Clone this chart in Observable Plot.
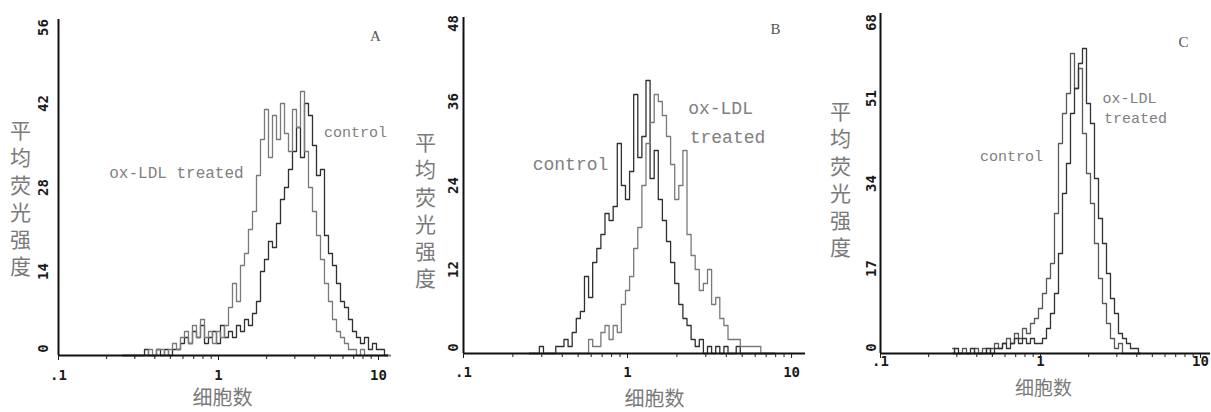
<!DOCTYPE html>
<html><head><meta charset="utf-8">
<script src="https://cdn.jsdelivr.net/npm/d3@7"></script>
<script src="https://cdn.jsdelivr.net/npm/@observablehq/plot@0.6"></script>
<style>
body{margin:0;background:#fff;}
#wrap{position:relative;width:1211px;height:412px;overflow:hidden;background:#fff;}
.panel{position:absolute;top:0;}
</style></head><body><div id="wrap"></div>
<script>
// histogram channels: log10 of fluorescence, fixed channel width
const binStep = 0.025;

// Panel A
const binStartA = -0.6;
const oxLdlA = [0,0,0,0,0,0,0, 1,0,1,1,0,1,2,1, 3,4,2,5,3,6,3,4,2,4,3,5,
  8,12,9,15,17,21,24,30,36,41,33,40,36,42,37,34,41,38,44,34,28,24,20,16,12,9,6,4,3,2,1,1,0,1,0,0,0,0,0,0,0];
const controlA = [0,0,0,0,0,0,1,0,0,1,0,1,0,1,1, 2,3,2,4,3,5,2,3,4,2,5,3,4,
  3,5,4,6,5,7,9,14,16,19,18,22,26,28,31,34,38,33,42,40,35,30,31,20,17,15,12,9,8,6,4,3,2,3,1,2,1,1,0,0];
const yTicksA = [0,14,28,42,56];

// Panel B
const binStartB = -0.6;
const controlB = [0,0,0,1,0,0,0,1,1,2,1,3,5,6,
  11,8,13,15,17,20,19,21,30,24,22,26,37,28,31,39,25,29,22,19,16,13,10,7,5,4,2,1,2,0,1,0,1,0,1,0,0,1,0,0,0,0,0,0,0,0,0];
const oxLdlB = [0,0,0,0,0,0,0,0,0,0,0,0,0,0,
  0,2,1,1,3,4,2,4,3,7,9,11,15,18,24,30,33,37,36,34,31,27,22,24,29,17,14,12,9,10,12,7,8,5,4,2,2,2,1,1,1,1,1,0,0,0,0];
const yTicksB = [0,12,24,36,48];

// Panel C
const binStartC = -0.55;
const controlC = [1,0,0,1,0,0,1,0,1,0,1,2,1,2,3,2,4,3,5,4,6,7,
  9,12,15,18,28,42,48,52,60,53,57,44,36,30,22,15,10,6,3,1,2,0,0,0,0,0];
const oxLdlC = [0,1,0,0,0,1,0,0,0,1,0,1,1,2,1,2,3,2,3,2,3,2,2,3,
  5,8,12,20,32,38,48,53,58,61,50,46,35,27,22,16,11,8,4,3,2,1,1,0];
const yTicksC = [0,17,34,51,68];

const xMajor = [0.1, 1, 10];
const xMajorLabels = [".1", "1", "10"];
const xMinor = [0.2,0.3,0.4,0.5,0.6,0.7,0.8,0.9,2,3,4,5,6,7,8,9];

const yTitle = "平\n均\n荧\n光\n强\n度";
const xTitle = "细胞数";

function series(start, values) {
  return values.map((v, i) => ({x: Math.pow(10, start + i * binStep), y: v}));
}

const panels = [
  {id: "A", left: 0, width: 400, ml: 58, mr: 12, mt: 19, mb: 57, xMax: 11.55,
   start: binStartA, ox: oxLdlA, control: controlA, yTicks: yTicksA,
   oxColor: "#7a7a7a", controlColor: "#303030", yPad: 11, xPad: 10,
   yTitleDx: -38, yTitleDy: 10, xTitleDx: -1, xTitleDy: 43, xTitleSize: 20, dyLow: -7, dyHigh: 8,
   notes: [
     {t: "ox-LDL treated", x: 0.546, y: 30.5, size: 16},
     {t: "control", x: 7.18, y: 37.2, size: 15},
   ],
   letter: {x: 9.58, y: 53.3}},
  {id: "B", left: 400, width: 410, ml: 63, mr: 5, mt: 17, mb: 59, xMax: 12.16,
   start: binStartB, ox: oxLdlB, control: controlB, yTicks: yTicksB,
   oxColor: "#7a7a7a", controlColor: "#303030", yPad: 6, xPad: 9,
   yTitleDx: -38, yTitleDy: 24, xTitleDx: 20, xTitleDy: 46, xTitleSize: 20, dyLow: -6, dyHigh: 6,
   notes: [
     {t: "ox-LDL", x: 3.69, y: 35, size: 18},
     {t: "treated", x: 4.07, y: 30.9, size: 18},
     {t: "control", x: 0.449, y: 27.1, size: 18},
   ],
   letter: {x: 7.98, y: 46.4}},
  {id: "C", left: 810, width: 401, ml: 70, mr: 1, mt: 13, mb: 59, xMax: 11.55,
   start: binStartC, ox: oxLdlC, control: controlC, yTicks: yTicksC,
   oxColor: "#333333", controlColor: "#5a5a5a", yPad: 5, xPad: -2,
   yTitleDx: -40, yTitleDy: -5, xTitleDx: -2, xTitleDy: 35, xTitleSize: 19, dyLow: -6, dyHigh: 9,
   notes: [
     {t: "ox-LDL", x: 3.6, y: 51, size: 15},
     {t: "treated", x: 3.93, y: 47, size: 15},
     {t: "control", x: 0.659, y: 39.4, size: 15},
   ],
   letter: {x: 7.83, y: 62.2}},
];

const tickFont = {fontFamily: "'DejaVu Sans Mono', monospace", fontWeight: "bold", fontSize: 14, color: "#1a1a1a"};
const noteFont = "'Liberation Mono', 'DejaVu Sans Mono', monospace";
const cjkFont = "'Noto Sans CJK SC', sans-serif";

const wrap = document.getElementById("wrap");
for (const p of panels) {
  const yMax = p.yTicks[p.yTicks.length - 1];
  const yMid = p.yTicks.slice(1, -1);
  const chart = Plot.plot({
    width: p.width, height: 412,
    marginLeft: p.ml, marginRight: p.mr, marginTop: p.mt, marginBottom: p.mb,
    x: {type: "log", domain: [0.1, p.xMax], axis: null},
    y: {domain: [0, yMax], axis: null},
    style: {background: "transparent", overflow: "visible"},
    marks: [
      Plot.line(series(p.start, p.control), {x: "x", y: "y", curve: "step", stroke: p.controlColor, strokeWidth: 1.3}),
      Plot.line(series(p.start, p.ox), {x: "x", y: "y", curve: "step", stroke: p.oxColor, strokeWidth: 1.3}),
      Plot.ruleY([0], {stroke: "#111", strokeWidth: 2}),
      Plot.ruleX([0.1], {stroke: "#111", strokeWidth: 2}),
      Plot.axisX({ticks: xMajor, label: null, tickFormat: d => xMajorLabels[xMajor.indexOf(d)], tickSize: 5, tickPadding: p.xPad, ...tickFont}),
      Plot.axisX({ticks: xMinor, label: null, tickFormat: () => "", tickSize: 4, color: "#1a1a1a"}),
      Plot.axisY({ticks: yMid, label: null, tickRotate: -90, tickSize: 0, tickPadding: p.yPad, tickFormat: d => String(d), ...tickFont}),
      Plot.axisY({ticks: [0], label: null, tickRotate: -90, tickSize: 0, tickPadding: p.yPad, tickFormat: d => String(d), dy: p.dyLow, ...tickFont}),
      Plot.axisY({ticks: [yMax], label: null, tickRotate: -90, tickSize: 0, tickPadding: p.yPad, tickFormat: d => String(d), dy: p.dyHigh, ...tickFont}),
      Plot.text(p.notes, {x: "x", y: "y", text: "t", fontSize: d => d.size, fontFamily: noteFont, fill: "#808080", textAnchor: "middle"}),
      Plot.text([p.id], {x: p.letter.x, y: p.letter.y, text: d => d, fontSize: 15, fontFamily: "'Liberation Serif', serif", fill: "#555"}),
      Plot.text([yTitle], {frameAnchor: "left", textAnchor: "middle", lineAnchor: "middle", dx: p.yTitleDx, dy: p.yTitleDy, text: d => d, fontSize: 21, lineHeight: 1.3, fontFamily: cjkFont, fill: "#7a7a7a"}),
      Plot.text([xTitle], {frameAnchor: "bottom", textAnchor: "middle", lineAnchor: "middle", dx: p.xTitleDx, dy: p.xTitleDy, text: d => d, fontSize: p.xTitleSize, fontFamily: cjkFont, fill: "#7a7a7a"}),
    ]
  });
  const div = document.createElement("div");
  div.className = "panel";
  div.style.left = p.left + "px";
  div.appendChild(chart);
  wrap.appendChild(div);
}
</script>
</body></html>
